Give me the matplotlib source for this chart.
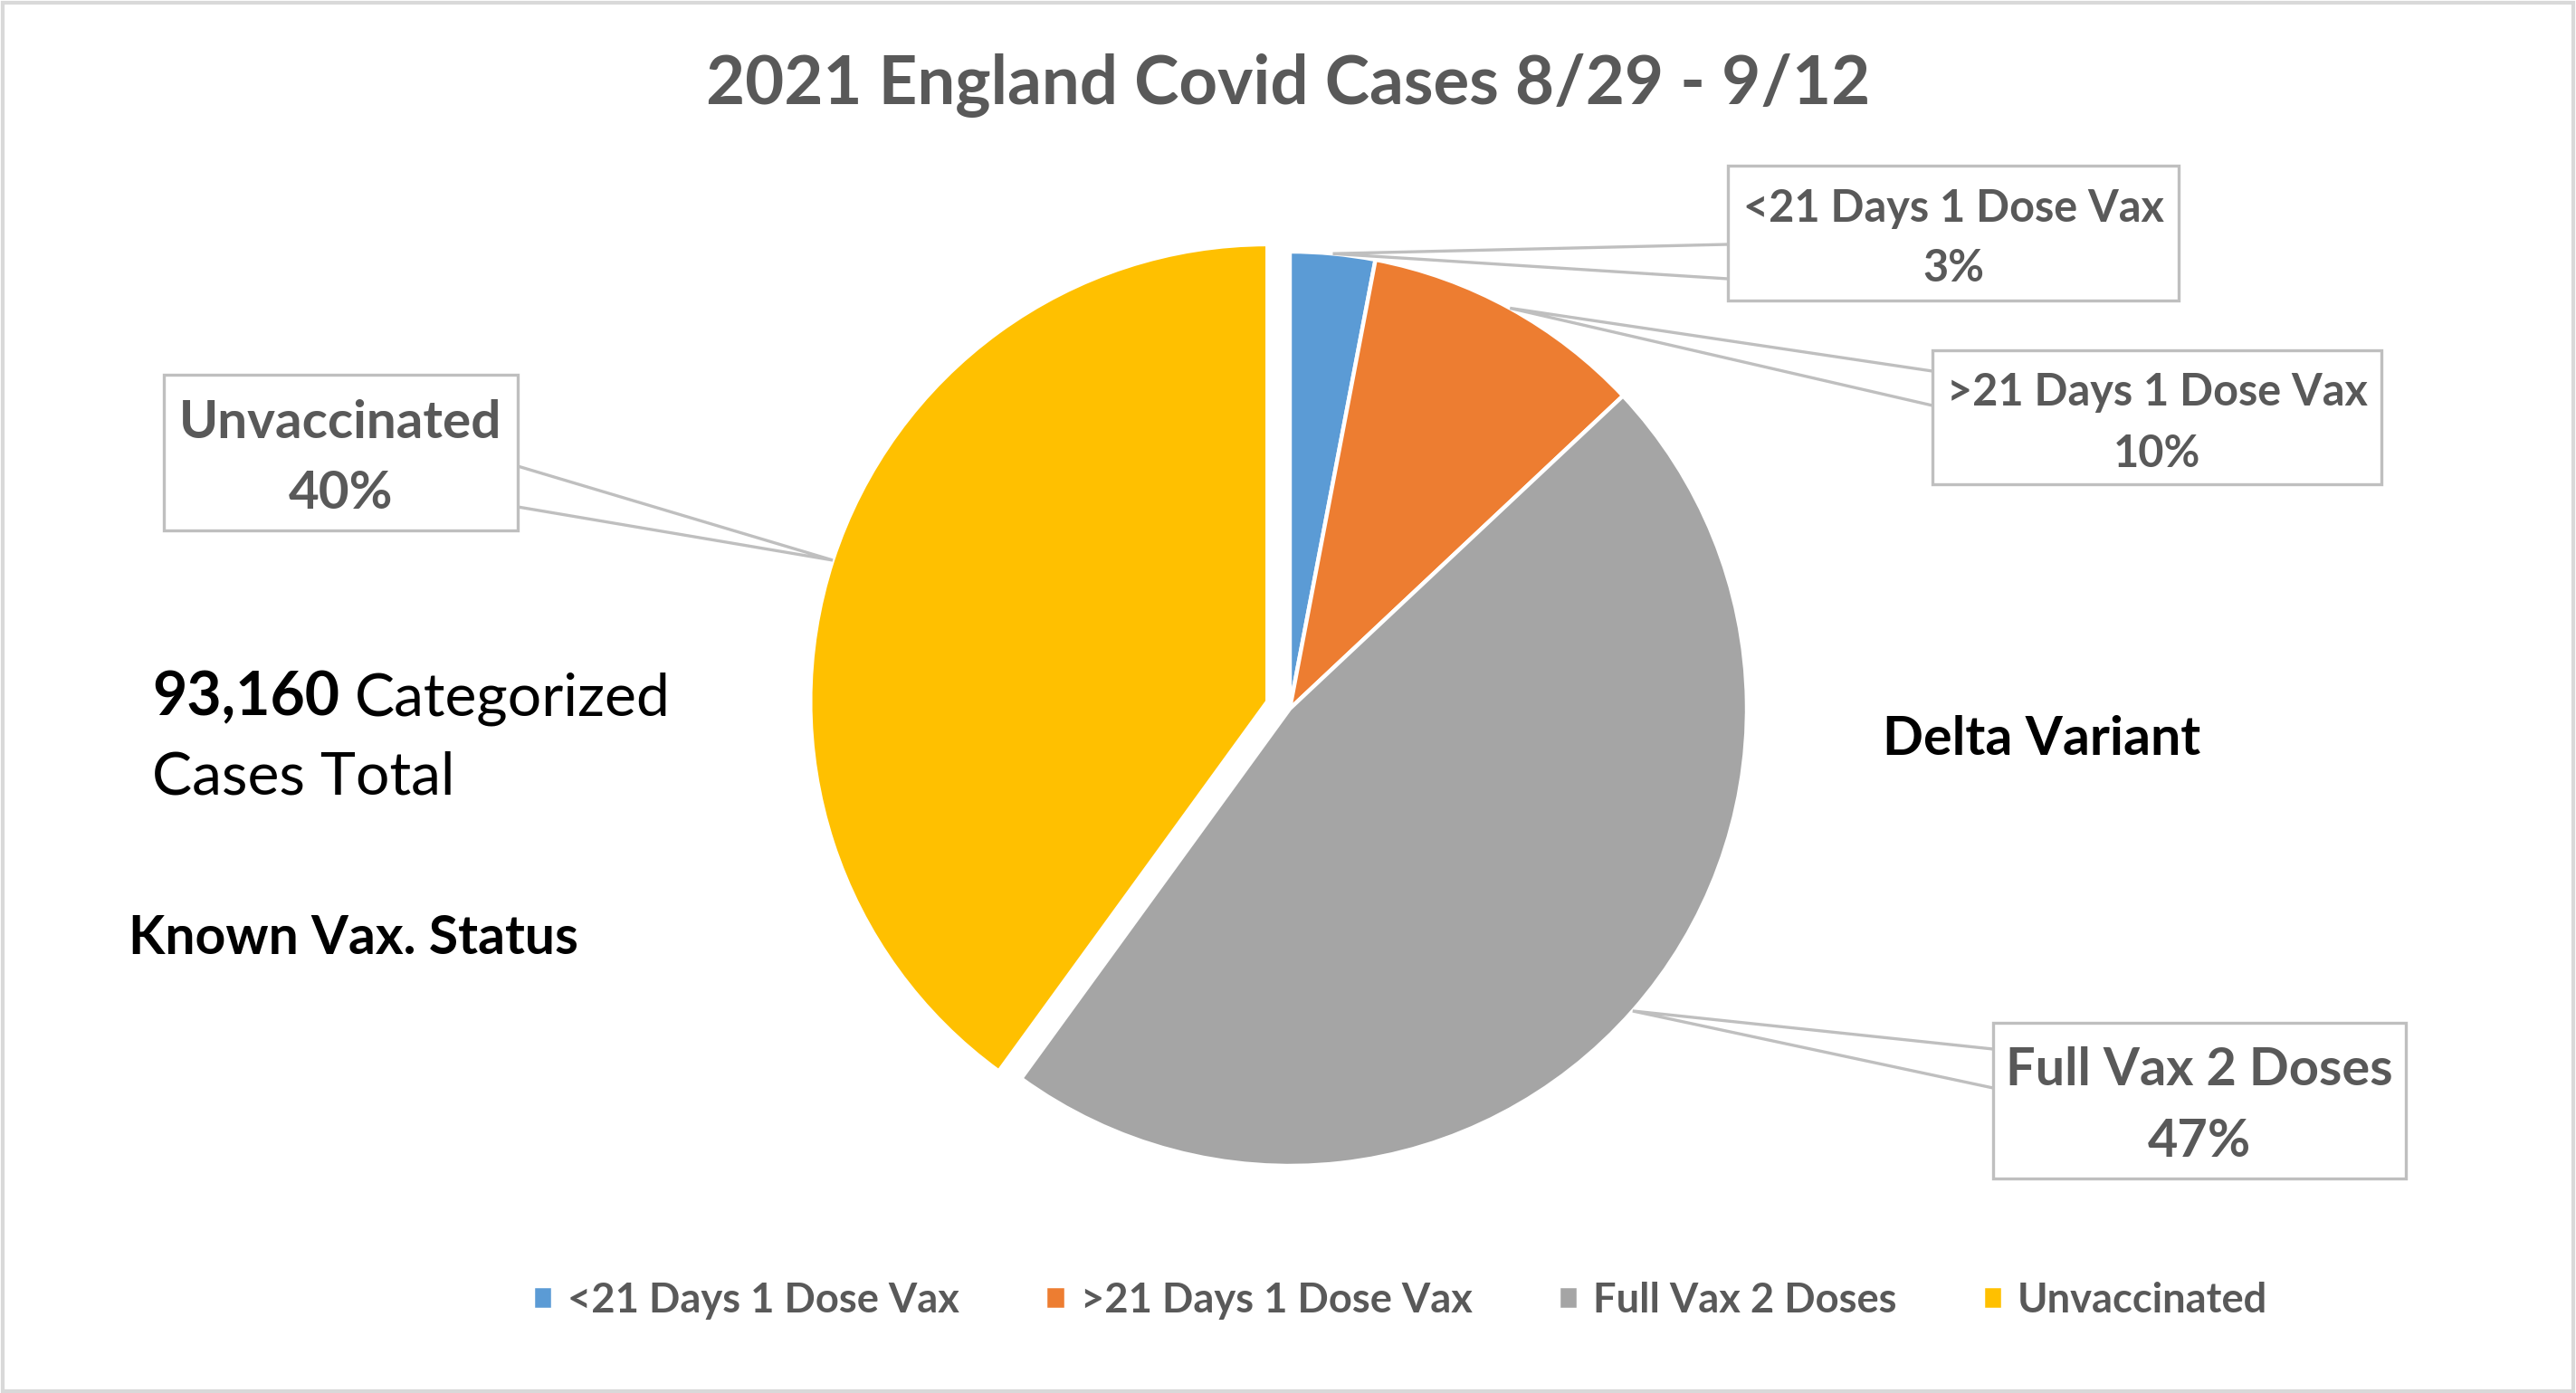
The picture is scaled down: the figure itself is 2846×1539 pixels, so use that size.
import matplotlib
matplotlib.use('Agg')
import matplotlib.pyplot as plt
from matplotlib.patches import Rectangle
import numpy as np

plt.rcParams['font.family'] = ['Lato', 'DejaVu Sans']

# data
categories = ['<21 Days 1 Dose Vax', '>21 Days 1 Dose Vax', 'Full Vax 2 Doses', 'Unvaccinated']
shares = [3, 10, 47, 40]
colors = ['#5B9BD5', '#ED7D31', '#A5A5A5', '#FFC000']
title = '2021 England Covid Cases 8/29 - 9/12'
total_cases = '93,160'

# layout (pixels, origin top-left)
W, H = 2846, 1539
DPI = 200
GREY_TXT = '#595959'
LINE_C = '#BFBFBF'
cx, cy, r = 1425, 783, 505
explode = [0, 0, 0, 26]
# box x0, y0, x1, y1 / attach y's / fontsize / baselines
boxes = [
    dict(box=(1909, 183, 2407, 332), side='left', att=(270, 308), fs=17.5, base=(245, 311)),
    dict(box=(2135, 387, 2631, 535), side='left', att=(410, 448), fs=17.5, base=(448, 516)),
    dict(box=(2202, 1130, 2658, 1302), side='left', att=(1159, 1202), fs=20.8, base=(1199, 1278)),
    dict(box=(181, 414, 572, 586), side='right', att=(515, 560), fs=21, base=(484, 562)),
]


def py(y):
    return H - y


fig = plt.figure(figsize=(W / DPI, H / DPI), dpi=DPI)
ax = fig.add_axes([0, 0, 1, 1])

wedges, _ = ax.pie(shares, colors=colors, explode=explode, startangle=90,
                   counterclock=False, center=(cx, py(cy)), radius=r,
                   wedgeprops=dict(edgecolor='white', linewidth=1.6))
ax.set_xlim(0, W)
ax.set_ylim(0, H)
ax.axis('off')

# callout labels
for w, name, val, b in zip(wedges, categories, shares, boxes):
    tm = np.deg2rad((w.theta1 + w.theta2) / 2)
    wx, wy = w.center
    apx = wx + w.r * np.cos(tm)
    apy = wy + w.r * np.sin(tm)
    x0, y0, x1, y1 = b['box']
    ex = x0 if b['side'] == 'left' else x1
    ax.plot([ex, apx, ex], [py(b['att'][0]), apy, py(b['att'][1])],
            color=LINE_C, lw=1.2, zorder=3, solid_joinstyle='miter')
    ax.add_patch(Rectangle((x0, py(y1)), x1 - x0, y1 - y0, facecolor='white',
                           edgecolor=LINE_C, lw=1.2, zorder=4))
    xc = (x0 + x1) / 2
    ax.text(xc, py(b['base'][0]), name, ha='center', va='baseline',
            fontsize=b['fs'], fontweight='bold', color=GREY_TXT, zorder=5)
    ax.text(xc, py(b['base'][1]), f'{val}%', ha='center', va='baseline',
            fontsize=b['fs'], fontweight='bold', color=GREY_TXT, zorder=5)

# title
ax.text(1423, py(115), title, ha='center', va='baseline', fontsize=26.8,
        fontweight='bold', color=GREY_TXT)

# annotations
renderer = fig.canvas.get_renderer()
t1 = ax.text(168, py(790), total_cases, ha='left', va='baseline', fontsize=23.8,
             fontweight='bold', color='black')
bb = t1.get_window_extent(renderer)
ax.text(bb.x1 + 0.25 * 23.8 * DPI / 72, py(790), 'Categorized', ha='left', va='baseline',
        fontsize=23.8, color='black')
ax.text(168, py(878), 'Cases Total', ha='left', va='baseline', fontsize=23.8, color='black')
ax.text(142, py(1054), 'Known Vax. Status', ha='left', va='baseline', fontsize=21.2,
        fontweight='bold', color='black')
ax.text(2080, py(834), 'Delta Variant', ha='left', va='baseline', fontsize=21.3,
        fontweight='bold', color='black')

# legend
leg = ax.legend(wedges, categories, loc='center', bbox_to_anchor=(1547 / W, 1 - 1437 / H),
                ncol=4, frameon=False, handlelength=0.5, handleheight=0.5,
                handletextpad=0.35, columnspacing=2.1,
                prop=dict(size=16.3, weight='bold'), labelcolor=GREY_TXT)

# outer border
fig.add_artist(Rectangle((0.001, 0.001), 0.998, 0.997, transform=fig.transFigure,
                         fill=False, edgecolor='#D9D9D9', lw=1.5))

fig.savefig('out.png', dpi=DPI, facecolor='white')
